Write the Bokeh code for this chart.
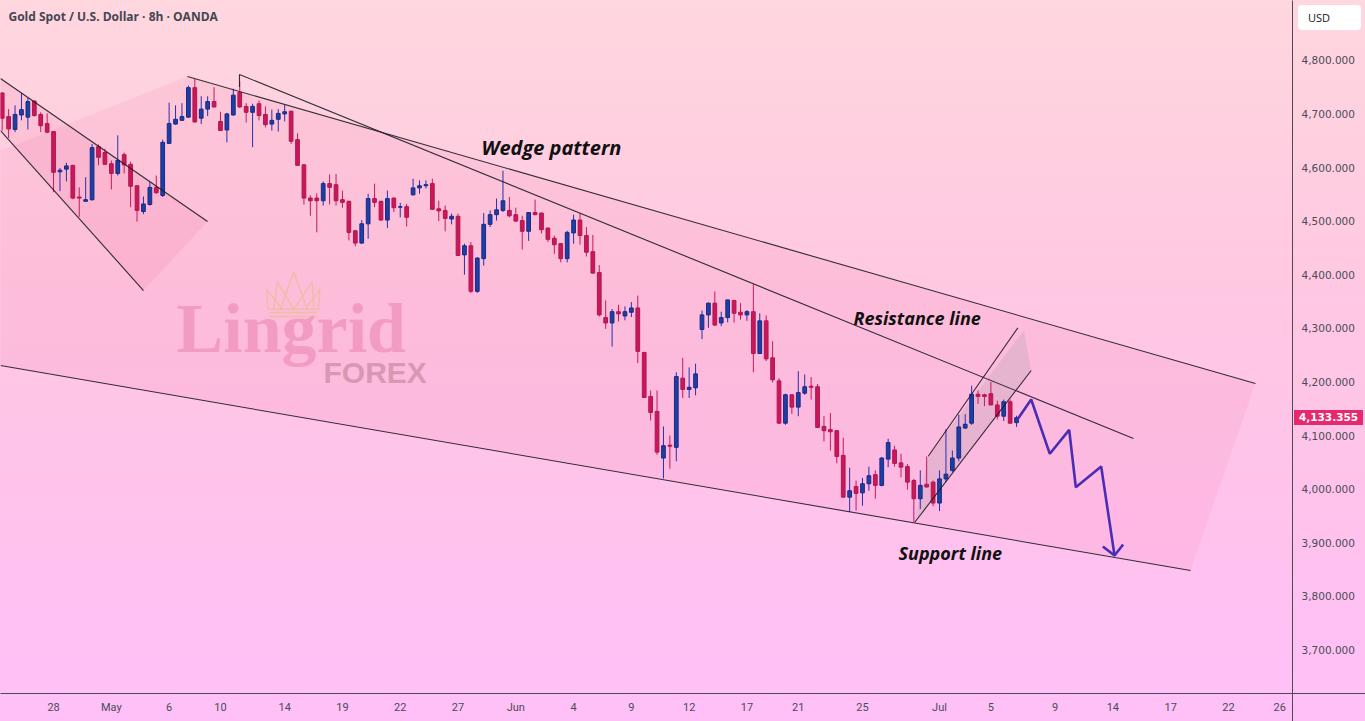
from bokeh.plotting import figure
from bokeh.models import (ColumnDataSource, FixedTicker, NumeralTickFormatter, Label,
                          Range1d, Div)
from bokeh.layouts import column
from bokeh.embed import file_html
from bokeh.resources import INLINE

# ---------------- data (8h bars, XAU/USD) ----------------
opens = [4739, 4695, 4671, 4698, 4694, 4724, 4699, 4682, 4667, 4592,
         4597, 4604, 4545, 4537, 4540, 4639, 4628, 4607, 4589, 4624,
         4606, 4566, 4518, 4531, 4563, 4548, 4645, 4681, 4688, 4694,
         4749, 4692, 4709, 4723, 4686, 4670, 4698, 4740, 4714, 4703,
         4719, 4699, 4681, 4690, 4700, 4705, 4652, 4605, 4543, 4543,
         4538, 4570, 4568, 4540, 4537, 4482, 4459, 4495, 4542, 4537,
         4502, 4543, 4526, 4527, 4549, 4562, 4566, 4570, 4523, 4520,
         4504, 4509, 4437, 4454, 4369, 4430, 4494, 4512, 4520, 4520,
         4512, 4501, 4481, 4516, 4515, 4487, 4468, 4458, 4430, 4478,
         4502, 4473, 4443, 4404, 4320, 4310, 4331, 4323, 4330, 4338,
         4255, 4173, 4145, 4058, 4082, 4078, 4207, 4186, 4189, 4298,
         4325, 4347, 4310, 4320, 4352, 4330, 4325, 4331, 4253, 4314,
         4245, 4202, 4123, 4176, 4153, 4179, 4192, 4191, 4117, 4111,
         4109, 4063, 3985, 4005, 3993, 4010, 4027, 4007, 4056, 4073,
         4049, 4042, 4016, 3982, 4009, 4013, 3974, 4019, 4035, 4058,
         4114, 4123, 4177, 4176, 4178, 4157, 4136, 4163, 4124]
highs = [4741, 4709, 4716, 4739, 4730, 4725, 4703, 4701, 4668, 4599,
         4609, 4605, 4563, 4582, 4644, 4643, 4635, 4613, 4660, 4628,
         4611, 4567, 4546, 4574, 4585, 4652, 4721, 4716, 4720, 4753,
         4765, 4733, 4733, 4750, 4704, 4702, 4747, 4761, 4720, 4719,
         4725, 4714, 4708, 4709, 4717, 4706, 4664, 4606, 4548, 4552,
         4574, 4587, 4588, 4557, 4538, 4483, 4502, 4551, 4570, 4538,
         4557, 4544, 4534, 4532, 4579, 4576, 4576, 4579, 4538, 4529,
         4514, 4514, 4458, 4461, 4433, 4515, 4520, 4542, 4594, 4545,
         4525, 4510, 4517, 4540, 4516, 4488, 4473, 4459, 4482, 4512,
         4515, 4489, 4474, 4418, 4352, 4336, 4344, 4341, 4349, 4361,
         4256, 4184, 4184, 4117, 4100, 4218, 4245, 4227, 4234, 4333,
         4348, 4369, 4331, 4353, 4353, 4347, 4334, 4382, 4328, 4324,
         4276, 4207, 4178, 4177, 4220, 4214, 4209, 4196, 4136, 4142,
         4110, 4096, 4040, 4016, 4021, 4042, 4035, 4060, 4094, 4081,
         4066, 4047, 4019, 4035, 4061, 4016, 4035, 4112, 4072, 4139,
         4140, 4193, 4184, 4178, 4200, 4165, 4167, 4167, 4137]
lows = [4669, 4655, 4666, 4688, 4671, 4695, 4666, 4664, 4554, 4556,
        4574, 4541, 4508, 4536, 4538, 4604, 4605, 4559, 4585, 4589,
        4526, 4499, 4513, 4529, 4551, 4545, 4644, 4680, 4687, 4693,
        4684, 4681, 4696, 4712, 4668, 4647, 4697, 4711, 4684, 4638,
        4688, 4675, 4669, 4667, 4686, 4644, 4603, 4531, 4510, 4479,
        4529, 4531, 4529, 4525, 4464, 4453, 4458, 4467, 4526, 4501,
        4487, 4517, 4507, 4490, 4548, 4551, 4561, 4521, 4500, 4481,
        4494, 4435, 4400, 4366, 4366, 4417, 4489, 4501, 4517, 4507,
        4499, 4447, 4463, 4511, 4477, 4461, 4439, 4423, 4423, 4458,
        4456, 4434, 4402, 4322, 4299, 4266, 4313, 4315, 4321, 4235,
        4170, 4128, 4064, 4020, 4038, 4052, 4170, 4170, 4175, 4280,
        4301, 4305, 4304, 4311, 4311, 4316, 4314, 4218, 4252, 4239,
        4199, 4122, 4120, 4140, 4136, 4176, 4167, 4114, 4089, 4072,
        4048, 3984, 3957, 3960, 3969, 3997, 3982, 4005, 4041, 4042,
        4022, 3999, 3938, 3963, 4003, 3968, 3959, 4013, 4032, 4052,
        4112, 4120, 4159, 4155, 4157, 4130, 4127, 4122, 4116]
closes = [4692, 4672, 4699, 4708, 4723, 4697, 4678, 4666, 4591, 4595,
          4603, 4543, 4543, 4540, 4637, 4619, 4606, 4589, 4613, 4605,
          4565, 4520, 4532, 4563, 4553, 4647, 4682, 4690, 4695, 4749,
          4685, 4709, 4723, 4713, 4669, 4700, 4735, 4713, 4703, 4714,
          4697, 4680, 4688, 4701, 4704, 4649, 4604, 4543, 4538, 4538,
          4570, 4563, 4538, 4535, 4479, 4459, 4495, 4542, 4535, 4502,
          4542, 4525, 4527, 4507, 4562, 4566, 4568, 4522, 4519, 4505,
          4509, 4436, 4454, 4369, 4431, 4494, 4512, 4521, 4538, 4510,
          4500, 4481, 4516, 4512, 4484, 4466, 4456, 4430, 4479, 4502,
          4473, 4442, 4403, 4325, 4310, 4331, 4327, 4331, 4338, 4257,
          4171, 4143, 4069, 4081, 4080, 4210, 4186, 4190, 4215, 4325,
          4347, 4306, 4320, 4353, 4328, 4325, 4331, 4253, 4314, 4243,
          4204, 4123, 4176, 4153, 4180, 4191, 4190, 4115, 4109, 4107,
          4061, 3985, 3997, 3992, 4010, 4025, 4007, 4058, 4087, 4048,
          4041, 4013, 3982, 4007, 4004, 3974, 4019, 4028, 4058, 4116,
          4121, 4177, 4173, 4173, 4157, 4136, 4163, 4123, 4133.355]
last_price = 4133.355
last_price_text = "4,133.355"
currency = "USD"

date_tick_bars = [8, 17, 26, 34, 44, 53, 62, 71, 80, 89, 98, 107, 116, 124,
                  134, 146, 154, 164, 173, 182, 191, 199]
date_tick_labels = ["28", "May", "6", "10", "14", "19", "22", "27", "Jun", "4",
                    "9", "12", "17", "21", "25", "Jul", "5", "9", "14", "17",
                    "22", "26"]
price_ticks = [3700, 3800, 3900, 4000, 4100, 4200, 4300, 4400, 4500, 4600, 4700, 4800]

# analyst drawings: (bar index, price)
wedge_upper_bar, wedge_upper_price = [28.86, 195.2], [4769.8, 4197.0]
resistance_bar, resistance_price = [36.96, 176.2], [4773.5, 4094.4]
support_bar, support_price = [-0.27, 185.1], [4230.6, 3848.1]
wedge_zone_bar = [-0.27, 28.86, 195.2, 185.1, -0.27]
wedge_zone_price = [4631.7, 4769.8, 4197.0, 3848.1, 4230.6]
left_ch_upper_bar, left_ch_upper_price = [-0.27, 31.98], [4766.0, 4499.3]
left_ch_lower_bar, left_ch_lower_price = [-0.27, 22.01], [4669.0, 4370.5]
rise_upper_bar, rise_upper_price = [144.24, 158.2], [4061.4, 4300.9]
rise_lower_bar, rise_lower_price = [142.15, 160.28], [3938.2, 4221.3]
rise_zone_bar = [142.15, 144.24, 159.14, 160.28]
rise_zone_price = [3938.2, 4061.4, 4295.9, 4221.3]
path_bar = [158.1, 160.28, 163.18, 166.2, 167.23, 171.18, 173.26]
path_price = [4129.3, 4167.2, 4065.9, 4110.6, 4003.5, 4042.2, 3876.1]
arrow_bar = [171.44, 173.26, 174.6]
arrow_price = [3892.9, 3876.1, 3896.6]

# ---------------- figure ----------------
X0, X1 = -0.265, 200.98
Y0, Y1 = 3618.7, 4911.6
FW, FH = 1292, 693


def px(x, y):
    """reference-pixel position -> data coordinates (for decorations)"""
    return X0 + x / FW * (X1 - X0), Y1 - y / FH * (Y1 - Y0)


axis_col = "#4a4b57"
p = figure(width=1365, height=721, x_range=Range1d(X0, X1), y_range=Range1d(Y0, Y1),
           y_axis_location="right", output_backend="svg", toolbar_location=None,
           min_border_left=0, min_border_top=0, min_border_right=73, min_border_bottom=28)
p.background_fill_alpha = 0
p.border_fill_alpha = 0
p.outline_line_color = None
p.xgrid.visible = False
p.ygrid.visible = False
p.styles = {"background":
            f"linear-gradient({axis_col},{axis_col}) 1292px 693px / 1px 28px no-repeat, "
            f"linear-gradient({axis_col},{axis_col}) 1292px 693px / 73px 1px no-repeat, "
            "linear-gradient(180deg, #ffd7df 0%, #ffd0e0 18%, #ffc8e2 40%, "
            "#ffc4e9 62%, #ffc1f1 82%, #ffc0f8 100%)"}

p.yaxis.ticker = FixedTicker(ticks=price_ticks)
p.yaxis.formatter = NumeralTickFormatter(format="0,0.000")
p.yaxis.major_label_text_font = "DejaVu Sans"
p.yaxis.major_label_text_font_size = "10.5px"
p.yaxis.major_label_text_color = "#4a4c57"
p.yaxis.major_tick_in = 0
p.yaxis.major_tick_out = 0
p.yaxis.minor_tick_line_color = None
p.yaxis.major_label_standoff = 9
p.yaxis.axis_line_color = axis_col

p.xaxis.ticker = FixedTicker(ticks=date_tick_bars)
p.xaxis.major_label_overrides = {b: l for b, l in zip(date_tick_bars, date_tick_labels)}
p.xaxis.major_label_text_font = "Roboto"
p.xaxis.major_label_text_font_size = "11px"
p.xaxis.major_label_text_color = "#4a4c57"
p.xaxis.major_tick_in = 0
p.xaxis.major_tick_out = 0
p.xaxis.minor_tick_line_color = None
p.xaxis.major_label_standoff = 7
p.xaxis.axis_line_color = axis_col

# shaded zones
p.patch(wedge_zone_bar, wedge_zone_price, fill_color="#f06292", fill_alpha=0.10, line_color=None)
p.patch(left_ch_upper_bar + left_ch_lower_bar[::-1], left_ch_upper_price + left_ch_lower_price[::-1],
        fill_color="#f06292", fill_alpha=0.13, line_color=None)
p.patch(rise_zone_bar, rise_zone_price, fill_color="#9a9a9a", fill_alpha=0.22, line_color=None)

# watermark
crown_px = [
    [(267.3, 308.7), (266.0, 288.7), (281.7, 308.7)],
    [(273.3, 308.7), (276.7, 281.3), (293.3, 308.7)],
    [(280.0, 308.7), (293.3, 271.3), (306.7, 308.7)],
    [(293.3, 308.7), (311.7, 281.3), (313.3, 308.7)],
    [(305.0, 308.7), (319.3, 288.7), (318.0, 308.7)],
    [(267.3, 308.7), (318.0, 308.7)],
    [(268.3, 312.0), (316.7, 312.0)],
    [(268.3, 316.0), (316.7, 316.0)],
]
cxs, cys = [], []
for seg in crown_px:
    pts = [px(a, b) for a, b in seg]
    cxs.append([q[0] for q in pts])
    cys.append([q[1] for q in pts])
p.multi_line(cxs, cys, line_color="#efbca6", line_width=1.4)
wx, wy = px(176.0, 328.0)
p.add_layout(Label(x=wx, y=wy, text="Lingrid", text_font="Liberation Serif", text_font_style="bold",
                   text_font_size="70px", text_color="#f29cc3", text_baseline="alphabetic"))
fx, fy = px(323.0, 372.0)
p.add_layout(Label(x=fx, y=fy, text="FOREX", text_font="Liberation Sans", text_font_style="bold",
                   text_font_size="30px", text_color="#d898b4", text_baseline="alphabetic"))

# candles
bars = list(range(len(opens)))
up = [c >= o for o, c in zip(opens, closes)]
src = ColumnDataSource(dict(
    x=bars, high=highs, low=lows,
    top=[max(o, c) for o, c in zip(opens, closes)],
    bottom=[min(o, c) for o, c in zip(opens, closes)],
    fill=["#1f3fa0" if u else "#c8185c" for u in up],
    edge=["#17298a" if u else "#b5144f" for u in up],
    wick=["#2930a8" if u else "#c8185c" for u in up],
))
p.segment(x0="x", y0="high", x1="x", y1="low", line_color="wick", line_width=1, source=src)
p.vbar(x="x", width=0.58, top="top", bottom="bottom", fill_color="fill", line_color="edge",
       line_width=1, source=src)

# trend lines
ln = dict(line_color="#1c1c22", line_width=1.1, line_alpha=0.9)
p.line(wedge_upper_bar, wedge_upper_price, **ln)
p.line(resistance_bar, resistance_price, **ln)
p.line([resistance_bar[0], resistance_bar[0]], [resistance_price[0], 4750], **ln)
p.line(support_bar, support_price, **ln)
p.line(left_ch_upper_bar, left_ch_upper_price, **ln)
p.line(left_ch_lower_bar, left_ch_lower_price, **ln)
p.line(rise_upper_bar, rise_upper_price, **ln)
p.line(rise_lower_bar, rise_lower_price, **ln)

# projected path
p.line(path_bar, path_price, line_color="#4b2db4", line_width=2.6)
p.line(arrow_bar, arrow_price, line_color="#4b2db4", line_width=2.6)

# annotations
for txt, (ax, ay), size in [("Wedge pattern", px(481, 146.5), "20px"),
                            ("Resistance line", px(853, 317), "18px"),
                            ("Support line", px(898, 552), "18px")]:
    p.add_layout(Label(x=ax, y=ay, text=txt, text_font="Open Sans", text_font_style="bold italic",
                       text_font_size=size, text_color="#111111", text_baseline="alphabetic"))

hx, hy = px(8, 16)
p.add_layout(Label(x=hx, y=hy, text="Gold Spot / U.S. Dollar · 8h · OANDA", text_font="Open Sans",
                   text_font_style="bold", text_font_size="12px", text_color="#434651",
                   text_baseline="middle"))

# price-axis widgets (HTML overlays on the axis strip)
usd_div = Div(text=currency, width=63, height=25, margin=0,
              styles={"position": "absolute", "left": "1298px", "top": "5px",
                      "background": "white", "border-radius": "4px", "color": "#131722",
                      "font-family": "Open Sans", "font-size": "11px", "line-height": "25px",
                      "padding-left": "10px", "box-sizing": "border-box", "z-index": "5"})
price_div = Div(text=last_price_text, width=69, height=15, margin=0,
                styles={"position": "absolute", "left": "1294px", "top": "410px",
                        "background": "#e8286c", "color": "white",
                        "font-family": "DejaVu Sans", "font-weight": "bold", "font-size": "10.5px",
                        "line-height": "15px", "text-align": "center", "z-index": "5"})

layout = column(p, usd_div, price_div)
open("out.html", "w").write(file_html(layout, INLINE))
